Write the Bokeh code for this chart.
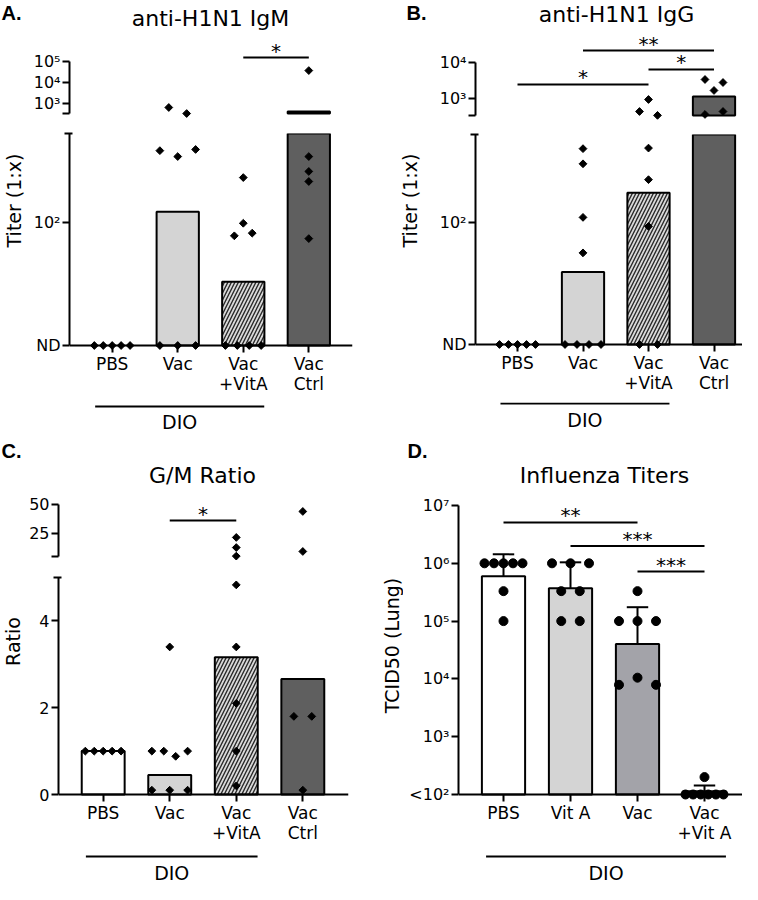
import numpy as np
from bokeh.plotting import figure
from bokeh.models import (Range1d, LogAxis, LinearAxis, FixedTicker,
                          CustomJSTickFormatter, Span, ColumnDataSource)
from bokeh.layouts import row, column
from bokeh.core.properties import value, field
from bokeh.embed import file_html
from bokeh.resources import INLINE

FONT = "DejaVu Sans"
LETTER_FONT = "Liberation Sans"
INF = float("inf")

# ===================== DATA =====================
ND = 20.0          # plotting level for "ND" (not detected) titers
cats_abc = ["PBS", "Vac", "Vac\n+VitA", "Vac\nCtrl"]
cats_d = ["PBS", "Vit A", "Vac", "Vac\n+Vit A"]
dio_abc = [0, 2]
dio_d = [0, 3]

# A. anti-H1N1 IgM (titer 1:x)
igm_pbs = [ND, ND, ND, ND, ND]
igm_vac = [645, 333, 256, 237, 260, ND, ND, ND]
igm_vac_vita = [180, 99, 84, 87, ND, ND, ND, ND]
igm_vac_ctrl = [37000, 237, 195, 171, 81]
igm_bar = [ND, 115, 46, 416]
sig_a = [(2, 3, 1.55e5, "*")]

# B. anti-H1N1 IgG (titer 1:x)
igg_pbs = [ND, ND, ND, ND, ND]
igg_vac = [265, 217, 107, 67, ND, ND, ND, ND]
igg_vac_vita = [938, 435, 340, 267, 176, 95, ND, ND]
igg_vac_ctrl = [3370, 2780, 1670, 360, 435]
igg_bar = [ND, 52, 148, 1136]
sig_b = [(1, 3, 2.15e4, "**"), (2, 3, 6.4e3, "*"), (0, 2, 2.45e3, "*")]

# C. G/M ratio
gm_pbs = [1.0, 1.0, 1.0, 1.0, 1.0]
gm_vac = [1.0, 1.0, 0.88, 1.0, 0.1, 0.1, 0.1, 3.4]
gm_vac_vita = [21.6, 12.9, 5.5, 4.83, 3.4, 2.1, 1.0, 0.2]
gm_vac_ctrl = [44.0, 9.5, 1.8, 1.8, 0.1]
gm_bar = [1.0, 0.45, 3.16, 2.66]
sig_c = [(1, 2, 36.2, "*")]

# D. Influenza titers, TCID50 (lung)
flu_pbs = [1e6, 1e6, 1e6, 1e6, 1e6, 3.3e5, 1e5]
flu_vita = [1e6, 1e6, 1e6, 3.3e5, 3.3e5, 1e5, 1e5]
flu_vac = [3.3e5, 1e5, 1e5, 1e5, 7.9e3, 1.05e4, 7.9e3]
flu_vac_vita = [100, 100, 100, 100, 100, 100, 200]
flu_mean = [6.0e5, 3.7e5, 4.0e4, 114]
flu_sd_upper = [1.43e6, 1.04e6, 1.74e5, 143]
sig_d = [(0, 2, 5.1e6, "**"), (1, 3, 2.0e6, "***"), (2, 3, 7.2e5, "***")]

# axis ticks / labels
ticks_a_up, labels_a_up = [1e3, 1e4, 1e5], ["10\u00b3", "10\u2074", "10\u2075"]
ticks_a_lo, labels_a_lo = [ND, 100.0], ["ND", "10\u00b2"]
ticks_b_up, labels_b_up = [1e3, 1e4], ["10\u00b3", "10\u2074"]
ticks_b_lo, labels_b_lo = [ND, 100.0], ["ND", "10\u00b2"]
ticks_c_up, labels_c_up = [25.0, 50.0], ["25", "50"]
ticks_c_lo, labels_c_lo = [0.0, 2.0, 4.0], ["0", "2", "4"]
ticks_d = [1e2, 1e3, 1e4, 1e5, 1e6, 1e7]
labels_d = ["<10\u00b2", "10\u00b3", "10\u2074", "10\u2075", "10\u2076", "10\u2077"]

# ===================== STYLE =====================
BAR_FILL_ABC = ["#ffffff", "#d4d4d4", "#dadada", "#5f5f5f"]
BAR_HATCH_ABC = [" ", " ", "/", " "]
BAR_FILL_D = ["#ffffff", "#d4d4d4", "#a3a3a9", "#ffffff"]
BAR_HATCH_D = [" ", " ", " ", " "]
BAR_W = 0.645
STAR_OFFSET = -7

Y_FMT = """
const i = tv.findIndex(t => Math.abs(t - tick) <= 1e-6 * Math.abs(t) + 1e-9);
return i >= 0 ? tl[i] : "";
"""
X_FMT = """
const i = Math.round(tick);
return (i >= 0 && i < tl.length) ? tl[i] : "";
"""


def new_fig(w, h, xr, yr, ytype="linear", bl=0, br=0, bt=0, bb=0):
    p = figure(width=w, height=h, x_range=xr, y_range=yr, y_axis_type=ytype,
               x_axis_location=None, y_axis_location=None,
               output_backend="svg", toolbar_location=None,
               min_border=0, min_border_left=bl, min_border_right=br,
               min_border_top=bt, min_border_bottom=bb, outline_line_color=None)
    p.grid.visible = False
    return p


def add_text(p, x, y, s, size, font=FONT, align="center", baseline="middle",
             angle=0.0, style="normal", y_offset=0):
    p.text(x=[x], y=[y], text=[s], text_font=value(font), text_font_size=value(size),
           text_align=value(align), text_baseline=value(baseline), angle=angle,
           text_font_style=value(style), text_color="black", y_offset=y_offset)


def seg_px(seg, v):
    fh = seg["h"] - seg["bt"] - seg["bb"]
    f = np.log10 if seg["scale"] == "log" else (lambda t: t)
    a, b = f(seg["yr"][0]), f(seg["yr"][1])
    return fh * (b - f(v)) / (b - a)


def swarm_offsets(ys_px, xunit, max_w, step, thr=8.0):
    n = len(ys_px)
    off = [0.0] * n
    order = sorted(range(n), key=lambda i: ys_px[i])
    rows = []
    for i in order:
        if rows and abs(ys_px[i] - ys_px[rows[-1][0]]) < thr:
            rows[-1].append(i)
        else:
            rows.append([i])
    for r in rows:
        k = len(r)
        if k < 2:
            continue
        s = min(step, max_w / (k - 1))
        for j, i in enumerate(sorted(r)):
            off[i] = (j - (k - 1) / 2.0) * s / xunit
    return off


def seg_plot(P, seg, last):
    p = new_fig(P["inner_w"], seg["h"], Range1d(*P["xr"]), Range1d(*seg["yr"]),
                seg["scale"], P["bl"], P["br"], seg["bt"], seg["bb"])
    cls = LogAxis if seg["scale"] == "log" else LinearAxis
    minor = [seg["cap"]] if seg.get("cap") is not None else []
    yax = cls(ticker=FixedTicker(ticks=seg["ticks"], minor_ticks=minor),
              formatter=CustomJSTickFormatter(args=dict(tv=seg["ticks"], tl=seg["labels"]), code=Y_FMT),
              bounds=seg["bounds"], axis_line_width=2, axis_line_color="black",
              major_tick_line_width=2, major_tick_out=7, major_tick_in=0,
              minor_tick_line_width=2, minor_tick_out=seg.get("cap_out", 7),
              minor_tick_in=seg.get("cap_in", 0),
              major_label_text_font=FONT, major_label_text_font_size="16px",
              major_label_text_color="black", major_label_standoff=2)
    p.add_layout(yax, "left")

    # bars
    bx, btop, bbot, bfill, bhatch = [], [], [], [], []
    for i, m in enumerate(P["means"]):
        if m > seg["bar_from"]:
            bx.append(i)
            bbot.append(seg["bar_from"])
            btop.append(min(m, seg["bar_to"]))
            bfill.append(P["fills"][i])
            bhatch.append(P["hatches"][i])
    if bx:
        src = ColumnDataSource(dict(x=bx, top=btop, bottom=bbot, fill=bfill, hatch=bhatch))
        p.vbar(x="x", top="top", bottom="bottom", width=BAR_W, source=src,
               fill_color=field("fill"), line_color="black", line_width=2,
               hatch_pattern=field("hatch"), hatch_color="#2a2a2a",
               hatch_weight=1.4, hatch_scale=7)

    # error bars (upper SD)
    if P.get("err") is not None:
        ex = list(range(len(P["means"])))
        p.segment(x0=ex, x1=ex, y0=P["means"], y1=P["err"], line_width=2, line_color="black")
        p.segment(x0=[x - 0.16 for x in ex], x1=[x + 0.16 for x in ex],
                  y0=P["err"], y1=P["err"], line_width=2, line_color="black")

    # points
    lo, hi = seg["member"]
    xs, ys = [], []
    for gi, vals in enumerate(P["groups"]):
        vv = [v for v in vals if lo < v <= hi]
        if not vv:
            continue
        off = swarm_offsets([seg_px(seg, v) for v in vv], P["xunit"], P["swarm_w"], P["swarm_step"])
        xs += [gi + o for o in off]
        ys += vv
    if xs:
        p.scatter(xs, ys, marker=P["marker"], size=P["msize"], angle=P["mangle"],
                  fill_color="black", line_color="black")

    # significance brackets
    if seg.get("sig"):
        for (i, j, y, s) in P["sig"]:
            p.segment(x0=[i], x1=[j], y0=[y], y1=[y], line_width=2, line_color="black")
            add_text(p, (i + j) / 2.0, y, s, "20px", baseline="alphabetic", y_offset=STAR_OFFSET)

    if last:
        p.add_layout(Span(location=seg["base"], dimension="width",
                          line_color="black", line_width=2))
        xax = LinearAxis(ticker=FixedTicker(ticks=list(range(len(P["cats"])))),
                         formatter=CustomJSTickFormatter(args=dict(tl=P["cats"]), code=X_FMT),
                         axis_line_color=None, major_tick_line_width=2,
                         major_tick_in=7, major_tick_out=0, minor_tick_line_color=None,
                         major_label_text_font=FONT, major_label_text_font_size="17px",
                         major_label_text_color="black",
                         major_label_text_line_height=1.0,
                         major_label_standoff=1)
        p.add_layout(xax, "below")
    return p


def panel(P):
    inner_w = P["panel_w"] - P["strip_w"]
    frame_w = inner_w - P["bl"] - P["br"]
    x0 = -P["pbs_px"] / P["xunit"]
    P["inner_w"] = inner_w
    P["xr"] = (x0, x0 + frame_w / P["xunit"])

    header = new_fig(P["panel_w"], P["head_h"], Range1d(0, P["panel_w"]), Range1d(0, P["head_h"]))
    add_text(header, P["letter_x"], P["head_h"] - P["letter_y"], P["letter"], "20px",
             LETTER_FONT, align="left", style="bold")
    add_text(header, P["title_x"], P["head_h"] - P["title_y"], P["title"], "22px")

    segs = P["segs"]
    figs = [seg_plot(P, s, k == len(segs) - 1) for k, s in enumerate(segs)]

    fh = P["foot_h"]
    foot = new_fig(inner_w, fh, Range1d(*P["xr"]), Range1d(0, fh), bl=P["bl"], br=P["br"])
    g0, g1 = P["dio"]
    yl = fh - P["dio_line_y"]
    foot.segment(x0=[g0 - 0.26], x1=[g1 + 0.32], y0=[yl], y1=[yl], line_width=2, line_color="black")
    add_text(foot, (g0 + g1) / 2.0 + 0.03, fh - P["dio_text_y"], "DIO", "19px")

    strip_h = sum(s["h"] for s in segs) + fh
    strip = new_fig(P["strip_w"], strip_h, Range1d(0, P["strip_w"]), Range1d(0, strip_h))
    add_text(strip, P["ylabel_x"], strip_h - P["ylabel_y"], P["ylabel"], P["ylabel_size"],
             angle=np.pi / 2)

    return column(header, row(strip, column(*figs, foot)))


A_LOW_TOP = 10 ** 2.5057
B_LOW_TOP = 10 ** 2.5043

PA = dict(letter="A.", title="anti-H1N1 IgM", ylabel="Titer (1:x)", ylabel_size="19px",
          cats=cats_abc,
          groups=[igm_pbs, igm_vac, igm_vac_vita, igm_vac_ctrl], means=igm_bar,
          fills=BAR_FILL_ABC, hatches=BAR_HATCH_ABC, sig=sig_a, dio=dio_abc, err=None,
          panel_w=379, strip_w=30, bl=37, br=27, xunit=66.0, pbs_px=43,
          head_h=34, letter_x=1, letter_y=12, title_x=210, title_y=18,
          ylabel_x=13, ylabel_y=166, foot_h=30, dio_line_y=4, dio_text_y=19,
          marker="square", msize=5.5, mangle=np.pi / 4, swarm_w=36, swarm_step=18,
          segs=[dict(h=85, bt=0, bb=0, scale="log", yr=(10 ** 2.238, 10 ** 6.286),
                     bounds=(334.0, 1e5), ticks=ticks_a_up, labels=labels_a_up,
                     cap=334.0, cap_in=0, cap_out=7, member=(A_LOW_TOP, INF),
                     bar_from=334.0, bar_to=INF, base=None, sig=True),
                dict(h=283, bt=14, bb=50, scale="log", yr=(10 ** 1.2613, A_LOW_TOP),
                     bounds=(ND, A_LOW_TOP), ticks=ticks_a_lo, labels=labels_a_lo,
                     cap=A_LOW_TOP, cap_in=3, cap_out=5, member=(0.0, A_LOW_TOP),
                     bar_from=ND, bar_to=A_LOW_TOP, base=ND, sig=False)])

PB = dict(letter="B.", title="anti-H1N1 IgG", ylabel="Titer (1:x)", ylabel_size="19px",
          cats=cats_abc,
          groups=[igg_pbs, igg_vac, igg_vac_vita, igg_vac_ctrl], means=igg_bar,
          fills=BAR_FILL_ABC, hatches=BAR_HATCH_ABC, sig=sig_b, dio=dio_abc, err=None,
          panel_w=363, strip_w=52, bl=44, br=0, xunit=65.5, pbs_px=42,
          head_h=28, letter_x=27, letter_y=12, title_x=237, title_y=14,
          ylabel_x=30, ylabel_y=172, foot_h=30, dio_line_y=1, dio_text_y=17,
          marker="square", msize=5.5, mangle=np.pi / 4, swarm_w=36, swarm_step=18,
          segs=[dict(h=93, bt=0, bb=0, scale="log", yr=(10 ** 2.361, 10 ** 4.944),
                     bounds=(337.0, 1e4), ticks=ticks_b_up, labels=labels_b_up,
                     cap=337.0, cap_in=0, cap_out=7, member=(B_LOW_TOP, INF),
                     bar_from=337.0, bar_to=INF, base=None, sig=True),
                dict(h=281, bt=13, bb=51, scale="log", yr=(10 ** 1.2609, B_LOW_TOP),
                     bounds=(ND, B_LOW_TOP), ticks=ticks_b_lo, labels=labels_b_lo,
                     cap=B_LOW_TOP, cap_in=3, cap_out=5, member=(0.0, B_LOW_TOP),
                     bar_from=ND, bar_to=B_LOW_TOP, base=ND, sig=False)])

PC = dict(letter="C.", title="G/M Ratio", ylabel="Ratio", ylabel_size="19px", cats=cats_abc,
          groups=[gm_pbs, gm_vac, gm_vac_vita, gm_vac_ctrl], means=gm_bar,
          fills=BAR_FILL_ABC, hatches=BAR_HATCH_ABC, sig=sig_c, dio=dio_abc, err=None,
          panel_w=379, strip_w=26, bl=30, br=31, xunit=67.0, pbs_px=45,
          head_h=60, letter_x=1, letter_y=18, title_x=202, title_y=43,
          ylabel_x=12, ylabel_y=149, foot_h=37, dio_line_y=9, dio_text_y=25,
          marker="square", msize=5.5, mangle=np.pi / 4, swarm_w=36, swarm_step=18,
          segs=[dict(h=70, bt=0, bb=0, scale="linear", yr=(0.0, 60.34),
                     bounds=(5.0, 50.0), ticks=ticks_c_up, labels=labels_c_up,
                     cap=5.0, cap_in=0, cap_out=7, member=(5.0, INF),
                     bar_from=5.0, bar_to=INF, base=None, sig=True),
                dict(h=285, bt=15, bb=46, scale="linear", yr=(-0.161, 5.0),
                     bounds=(0.0, 5.0), ticks=ticks_c_lo, labels=labels_c_lo,
                     cap=5.0, cap_in=3, cap_out=5, member=(-INF, 5.0),
                     bar_from=0.0, bar_to=5.0, base=0.0, sig=False)])

PD = dict(letter="D.", title="Influenza Titers", ylabel="TCID50 (Lung)", ylabel_size="19px",
          cats=cats_d,
          groups=[flu_pbs, flu_vita, flu_vac, flu_vac_vita], means=flu_mean,
          fills=BAR_FILL_D, hatches=BAR_HATCH_D, sig=sig_d, dio=dio_d, err=flu_sd_upper,
          panel_w=363, strip_w=24, bl=55, br=0, xunit=67.0, pbs_px=45,
          head_h=60, letter_x=28, letter_y=18, title_x=225, title_y=43,
          ylabel_x=12, ylabel_y=153, foot_h=37, dio_line_y=9, dio_text_y=25,
          marker="circle", msize=9, mangle=0.0, swarm_w=38, swarm_step=18.5,
          segs=[dict(h=355, bt=0, bb=46, scale="log", yr=(10 ** 1.879, 10 ** 7.225),
                     bounds=(100.0, 1e7), ticks=ticks_d, labels=labels_d,
                     cap=None, member=(0.0, INF),
                     bar_from=100.0, bar_to=INF, base=100.0, sig=True)])

layout = column(row(panel(PA), panel(PB)), row(panel(PC), panel(PD)))

with open("out.html", "w") as fh_out:
    fh_out.write(file_html(layout, INLINE, title="Antibody and influenza titers"))
